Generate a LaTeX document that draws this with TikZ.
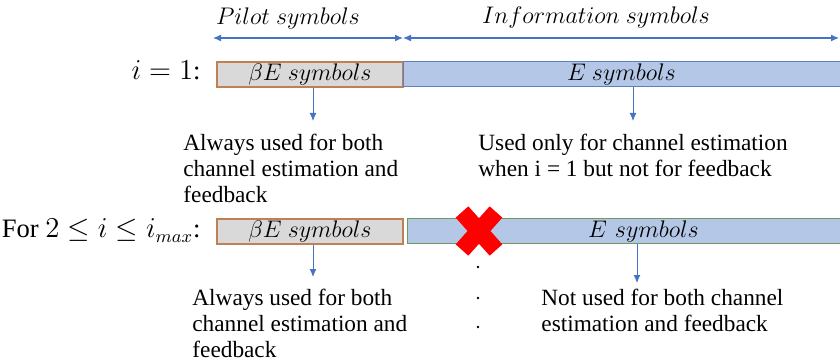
\documentclass[tikz,border=0pt]{standalone}
\usepackage{fontspec}
\setmainfont{Liberation Serif}
\usepackage{amsmath,amssymb}
\usetikzlibrary{positioning,arrows.meta}

\definecolor{arrblue}{HTML}{4472C4}
\definecolor{pilotfill}{HTML}{D9D9D9}
\definecolor{pilotedge}{HTML}{C0804F}
\definecolor{infofill}{HTML}{B4C7E7}
\definecolor{infoedge}{HTML}{5B7FC0}
\definecolor{infoedgeb}{HTML}{6E9B55}

\tikzset{
  pilotbox/.style={draw=pilotedge, fill=pilotfill, line width=0.6pt, inner sep=0pt,
    minimum height=12.5pt, font=\fontsize{12}{14}\selectfont},
  infobox/.style={draw=infoedge, fill=infofill, line width=0.5pt, inner sep=0pt,
    minimum height=12.5pt, font=\fontsize{12}{14}\selectfont},
  note/.style={align=left, anchor=north west, inner sep=0pt, font=\fontsize{11.65}{13}\selectfont},
  feed/.style={arrblue, line width=0.5pt, -{Latex[length=4pt,width=3.5pt]}},
  span/.style={arrblue, line width=0.6pt, {Latex[length=4pt,width=3.5pt]}-{Latex[length=4pt,width=3.5pt]}},
  rowlabel/.style={anchor=base east, inner sep=0pt, font=\fontsize{13.3}{15}\selectfont}
}

\begin{document}
\begin{tikzpicture}[x=0.5pt,y=-0.5pt]
  \useasboundingbox (0,0) rectangle (840,363);

  % span arrows on top
  \coordinate (s0) at (213,38);
  \coordinate (s1) at (403,38);
  \coordinate (s2) at (839,38);
  \draw[span] (s0) -- (s1);
  \draw[span] (s1) -- (s2);
  \node[font=\fontsize{12.5}{14}\selectfont] (pilot) at (288,19) {$Pilot\ symbols$};
  \node[font=\fontsize{12.5}{14}\selectfont] (info) at (596,18) {$Information\ symbols$};

  % first iteration
  \node[rowlabel] (row1) at (201,80) {$i=1$:};
  \node[pilotbox, minimum width=93pt] (p1) at (310,74.5) {$\beta E\ symbols$};
  \node[infobox, minimum width=218.5pt] (e1) at (621.5,74.5) {$E\ symbols$};

  \node[note] (a1) at (183,134) {Always used for both\\channel estimation and\\feedback};
  \node[note] (u1) at (478,134) {Used only for channel estimation\\when i = 1 but not for feedback};
  \coordinate (t1) at (313,121);
  \coordinate (t2) at (633,121);
  \draw[feed] (p1.south -| t1) -- (t1);
  \draw[feed] (e1.south -| t2) -- (t2);

  % later iterations
  \node[rowlabel] (row2) at (201,238) {For $2\leq i\leq i_{max}$:};
  \node[pilotbox, minimum width=93pt] (p2) at (310,231.5) {$\beta E\ symbols$};
  \node[infobox, draw=infoedgeb, minimum width=216.5pt, text width=216.5pt, align=center] (e2) at (623.5,231.5) {\hspace*{20pt}$E\ symbols$};

  \node[note] (a2) at (192,289) {Always used for both\\channel estimation and\\feedback};
  \node[note] (n2) at (541,289) {Not used for both channel\\estimation and feedback};
  \coordinate (t3) at (313,277);
  \coordinate (t4) at (637,283);
  \draw[feed] (p2.south -| t3) -- (t3);
  \draw[feed] (e2.south -| t4) -- (t4);

  % red cross
  \draw[red, line width=8.5pt] (462,212) -- (496,250);
  \draw[red, line width=8.5pt] (496,212) -- (462,250);

  % dots
  \foreach \y in {267,298,327}
    \fill (478,\y) circle (0.7pt);
\end{tikzpicture}
\end{document}
